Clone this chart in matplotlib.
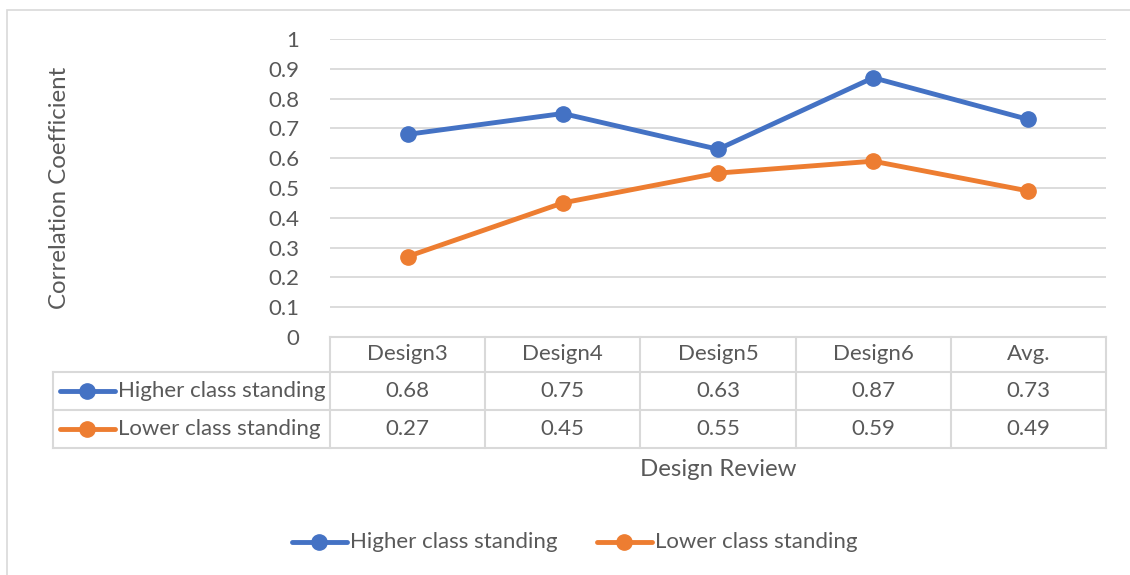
import matplotlib.pyplot as plt
from matplotlib import transforms
from matplotlib.lines import Line2D
from matplotlib.patches import Rectangle

categories = ["Design3", "Design4", "Design5", "Design6", "Avg."]
higher = [0.68, 0.75, 0.63, 0.87, 0.73]
lower = [0.27, 0.45, 0.55, 0.59, 0.49]
series_names = ["Higher class standing", "Lower class standing"]
yticks = [0, 0.1, 0.2, 0.3, 0.4, 0.5, 0.6, 0.7, 0.8, 0.9, 1]

BLUE = "#4472C4"
ORANGE = "#ED7D31"
TXT = "#595959"
GRID = "#D9D9D9"
W, H = 1130, 575
FS = 16
FS_TITLE = 17.3

plt.rcParams["font.family"] = ["Lato", "DejaVu Sans"]

fig = plt.figure(figsize=(W / 100, H / 100), dpi=100)


def fx(x):
    return x / W


def fy(y):
    return 1 - y / H


# chart frame
fig.patches.append(Rectangle((fx(7), fy(585)), fx(1140) - fx(7), fy(10) - fy(585),
                             transform=fig.transFigure, fill=False,
                             edgecolor=GRID, lw=1.2))

ax = fig.add_axes([fx(330), fy(337), fx(1106) - fx(330), fy(39) - fy(337)])
ax.set_xlim(-0.5, len(categories) - 0.5)
ax.set_ylim(0, 1)
for s in ax.spines.values():
    s.set_visible(False)
ax.set_yticks(yticks)
ax.set_yticklabels(["%g" % t for t in yticks])
ax.tick_params(axis="y", length=0, pad=22, labelsize=FS, labelcolor=TXT)
ax.set_xticks([])
ax.grid(axis="y", color=GRID, lw=1.3)
ax.set_axisbelow(True)

xs = range(len(categories))
ax.plot(xs, higher, color=BLUE, lw=3.5, marker="o", ms=11, zorder=3)
ax.plot(xs, lower, color=ORANGE, lw=3.5, marker="o", ms=11, zorder=3)

fig.text(fx(60), fy(188), "Correlation Coefficient", rotation=90, fontsize=FS_TITLE,
         color=TXT, ha="center", va="center")

# data table below the plot
bt = transforms.blended_transform_factory(ax.transData, fig.transFigure)
rows_y = [337, 372, 410, 448]
edges = [i - 0.5 for i in range(len(categories) + 1)]
for e in edges:
    fig.lines.append(Line2D([e, e], [fy(337), fy(448)], transform=bt,
                            color=GRID, lw=1.5))
fig.lines.append(Line2D([edges[0], edges[-1]], [fy(337), fy(337)], transform=bt,
                        color=GRID, lw=1.5))
for yy in rows_y[1:]:
    fig.lines.append(Line2D([fx(53), fx(1106)], [fy(yy), fy(yy)],
                            transform=fig.transFigure, color=GRID, lw=1.5))
fig.lines.append(Line2D([fx(53), fx(53)], [fy(372), fy(448)],
                        transform=fig.transFigure, color=GRID, lw=1.5))

for i, c in enumerate(categories):
    fig.text(i, fy(354), c, transform=bt, ha="center", va="center",
             fontsize=FS, color=TXT)
    fig.text(i, fy(391), "%.2f" % higher[i], transform=bt, ha="center",
             va="center", fontsize=FS, color=TXT)
    fig.text(i, fy(429), "%.2f" % lower[i], transform=bt, ha="center",
             va="center", fontsize=FS, color=TXT)


def key(x0, y, color, label):
    fig.lines.append(Line2D([fx(x0), fx(x0 + 55)], [fy(y), fy(y)],
                            transform=fig.transFigure, color=color, lw=3.5,
                            solid_capstyle="round"))
    fig.lines.append(Line2D([fx(x0 + 27)], [fy(y)], transform=fig.transFigure,
                            color=color, marker="o", ms=11))
    fig.text(fx(x0 + 58), fy(y), label, ha="left", va="center",
             fontsize=FS, color=TXT)


key(60, 391, BLUE, series_names[0])
key(60, 429, ORANGE, series_names[1])

fig.text(fx(718), fy(470), "Design Review", ha="center", va="center",
         fontsize=FS_TITLE, color=TXT)

# legend
key(292, 542, BLUE, series_names[0])
key(597, 542, ORANGE, series_names[1])

fig.savefig("out.png", dpi=100)
